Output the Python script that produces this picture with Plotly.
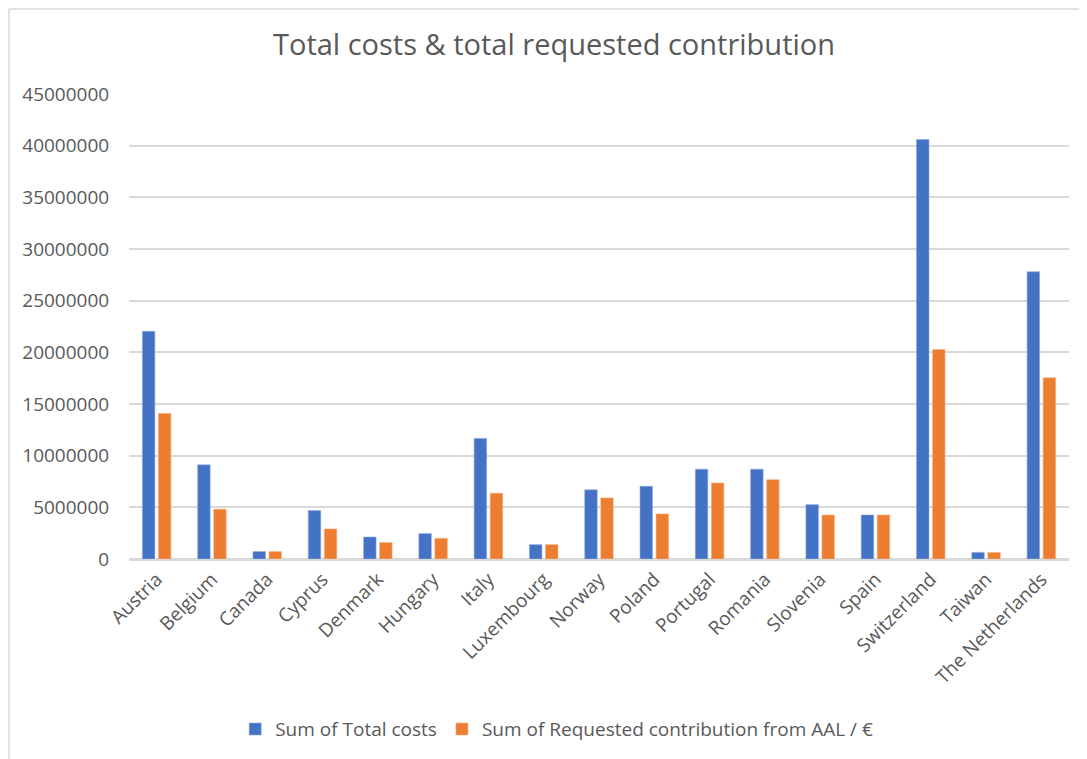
import plotly.graph_objects as go

countries = ["Austria", "Belgium", "Canada", "Cyprus", "Denmark", "Hungary", "Italy",
             "Luxembourg", "Norway", "Poland", "Portugal", "Romania", "Slovenia", "Spain",
             "Switzerland", "Taiwan", "The Netherlands"]
total_costs = [22030000, 9110000, 720000, 4690000, 2130000, 2460000, 11670000,
               1390000, 6690000, 7040000, 8690000, 8690000, 5260000, 4260000,
               40600000, 640000, 27790000]
requested = [14090000, 4820000, 720000, 2910000, 1590000, 2000000, 6370000,
             1390000, 5910000, 4360000, 7360000, 7680000, 4260000, 4260000,
             20270000, 640000, 17530000]
y_ticks = [0, 5000000, 10000000, 15000000, 20000000, 25000000, 30000000, 35000000,
           40000000, 45000000]

FONT = "Open Sans"
GREY = "#595959"

fig = go.Figure()
fig.add_trace(go.Bar(x=countries, y=total_costs, name="Sum of Total costs",
                     marker=dict(color="#4472C4", line=dict(color="#8EA9DB", width=0.6))))
fig.add_trace(go.Bar(x=countries, y=requested, name="Sum of Requested contribution from AAL / €",
                     marker=dict(color="#ED7D31", line=dict(color="#F4B183", width=0.6))))

fig.update_layout(
    width=1087, height=759,
    margin=dict(l=121, r=26, t=86, b=208),
    paper_bgcolor="white", plot_bgcolor="white",
    barmode="group", bargap=0.42, bargroupgap=0.22,
    font=dict(family=FONT, color=GREY, size=18),
    title=dict(text="Total costs & total requested contribution",
               font=dict(family=FONT, size=29, color=GREY),
               x=(554 - 8) / 1087, xref="container", xanchor="center",
               y=1 - 37 / 759, yref="container", yanchor="middle"),
    legend=dict(orientation="h", x=0.455, xanchor="center", y=-0.366, yanchor="middle",
                font=dict(family=FONT, size=19, color=GREY), itemwidth=30,
                traceorder="normal"),
    xaxis=dict(tickangle=-45, showgrid=False, showline=True, linecolor="#d9d9d9",
               linewidth=1.5, ticks="", tickfont=dict(size=19, color=GREY)),
    yaxis=dict(range=[0, 45000000], tickvals=y_ticks,
               ticktext=[str(v) for v in y_ticks],
               showgrid=True, gridcolor="#d9d9d9", gridwidth=1.5,
               zeroline=True, zerolinecolor="#d9d9d9", zerolinewidth=1.5,
               ticks="outside", ticklen=15, tickcolor="rgba(0,0,0,0)",
               tickfont=dict(size=19, color=GREY)),
    shapes=[
        dict(type="line", xref="paper", yref="paper", x0=-120 / 940, x1=-120 / 940,
             y0=-208 / 465, y1=1 + 85 / 465, line=dict(color="#d9d9d9", width=1.5)),
        dict(type="line", xref="paper", yref="paper", x0=-120 / 940, x1=1 + 26 / 940,
             y0=1 + 85 / 465, y1=1 + 85 / 465, line=dict(color="#d9d9d9", width=1.5)),
    ],
)

fig.write_html("out.html")
